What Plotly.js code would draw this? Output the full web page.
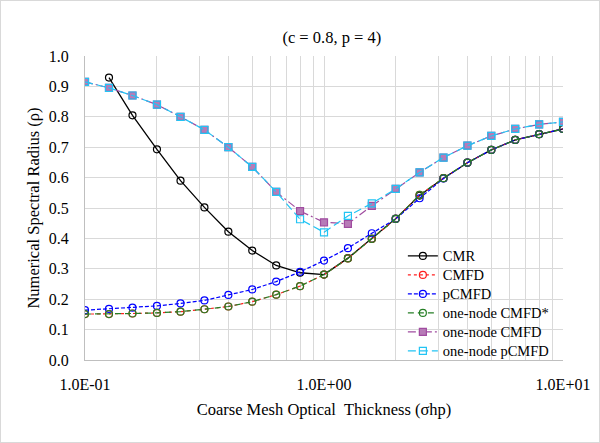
<!DOCTYPE html>
<html>
<head>
<meta charset="utf-8">
<script src="https://cdn.plot.ly/plotly-3.0.1.min.js"></script>
<style>
html,body{margin:0;padding:0;background:#fff;}
#wrap{position:relative;width:600px;height:443px;}
#chart{width:600px;height:443px;}
#frame{position:absolute;left:0;top:0;width:600px;height:443px;box-sizing:border-box;border:1px solid #d9d9d9;pointer-events:none;}
</style>
</head>
<body>
<div id="wrap"><div id="chart"></div><div id="frame"></div></div>
<script>
// Coarse mesh optical thickness (sigma h p)
const xVals = [0.1, 0.126, 0.158, 0.2, 0.251, 0.316, 0.398, 0.501, 0.631, 0.794, 1.0,
               1.259, 1.585, 1.995, 2.512, 3.162, 3.981, 5.012, 6.31, 7.943, 10];
const cmr = [null, 0.929, 0.805, 0.693, 0.59, 0.502, 0.422, 0.36, 0.311, 0.287, 0.281,
             0.335, 0.399, 0.465, 0.541, 0.598, 0.649, 0.691, 0.724, 0.743, 0.76];
const cmfd = [0.151, 0.151, 0.153, 0.155, 0.159, 0.167, 0.176, 0.192, 0.215, 0.243, 0.281,
              0.334, 0.398, 0.464, 0.543, 0.598, 0.649, 0.691, 0.724, 0.743, 0.76];
const pcmfd = [0.164, 0.168, 0.172, 0.178, 0.186, 0.196, 0.214, 0.232, 0.258, 0.29, 0.327,
               0.368, 0.417, 0.464, 0.532, 0.597, 0.649, 0.691, 0.724, 0.743, 0.76];
const oneNodeCmfdStar = [0.151, 0.151, 0.153, 0.155, 0.159, 0.167, 0.176, 0.192, 0.215, 0.243, 0.281,
                         0.334, 0.398, 0.464, 0.543, 0.598, 0.649, 0.691, 0.724, 0.743, 0.76];
const oneNodeCmfd = [0.915, 0.895, 0.87, 0.84, 0.80, 0.757, 0.70, 0.635, 0.553, 0.49, 0.453,
                     0.448, 0.507, 0.563, 0.617, 0.666, 0.705, 0.737, 0.76, 0.775, 0.783];
const oneNodePcmfd = [0.915, 0.895, 0.87, 0.84, 0.80, 0.757, 0.70, 0.635, 0.553, 0.463, 0.42,
                      0.474, 0.515, 0.563, 0.617, 0.666, 0.705, 0.737, 0.76, 0.775, 0.783];
const seriesNames = ['CMR', 'CMFD', 'pCMFD', 'one-node CMFD*', 'one-node CMFD', 'one-node pCMFD'];
const xTickVals = [0.1,0.2,0.3,0.4,0.5,0.6,0.7,0.8,0.9,1,2,3,4,5,6,7,8,9,10];
const xTickText = ['1.0E-01','','','','','','','','','1.0E+00','','','','','','','','','1.0E+01'];
const yTickVals = [0,0.1,0.2,0.3,0.4,0.5,0.6,0.7,0.8,0.9,1.0];

const F = 'Liberation Serif';
function tr(i, y, color, dash, symbol, msize, fill, lw){
  const m = {symbol: symbol, size: msize, color: fill || color, line: {color: color, width: 1.2}};
  return {x: xVals, y: y, name: '<span style="font-size:14.5px">' + seriesNames[i] + '</span>',
          type: 'scatter', mode: 'lines+markers',
          line: {color: color, dash: dash, width: lw || 1.2}, marker: m, connectgaps: false};
}
const data = [
  tr(0, cmr, '#000000', 'solid', 'circle-open', 7, null, 1.3),
  tr(1, cmfd, '#ff2020', 'dot', 'circle-open', 7),
  tr(2, pcmfd, '#0000ff', '4px,2px', 'circle-open', 7),
  tr(3, oneNodeCmfdStar, '#267f26', '6px,4px', 'circle-open', 7),
  tr(4, oneNodeCmfd, '#a04ca0', '8px,3px,2px,3px', 'square', 7, '#b77bb7'),
  tr(5, oneNodePcmfd, '#22c4f4', '8px,4px', 'square-open', 7)
];
const layout = {
  width: 600, height: 443,
  margin: {l: 85, r: 37, t: 56, b: 83},
  paper_bgcolor: '#ffffff', plot_bgcolor: '#ffffff',
  font: {family: F, size: 15, color: '#000'},
  title: {text: '(c = 0.8, p = 4)', font: {family: F, size: 16.5, color: '#000'}, x: 0.553, xanchor: 'center', y: 0.915, yanchor: 'middle'},
  xaxis: {type: 'log', range: [-1, 1], tickvals: xTickVals, ticktext: xTickText,
          showgrid: true, gridcolor: '#d9d9d9', gridwidth: 1, zeroline: false,
          showline: true, linecolor: '#bfbfbf', ticks: '', ticklabelstandoff: 10,
          tickfont: {family: F, size: 16, color: '#000'},
          title: {text: 'Coarse Mesh Optical  Thickness (σhp)', font: {family: F, size: 16.5, color: '#000'}, standoff: 11}},
  yaxis: {range: [0, 1], tickvals: yTickVals, tickformat: '.1f',
          showgrid: true, gridcolor: '#d9d9d9', gridwidth: 1, zeroline: false,
          showline: true, linecolor: '#bfbfbf', ticks: '', ticklabelstandoff: 12,
          tickfont: {family: F, size: 16, color: '#000'},
          title: {text: 'Numerical Spectral Radius (ρ)', font: {family: F, size: 16.5, color: '#000'}, standoff: 5}},
  legend: {x: 0.665, y: 0.39, xanchor: 'left', yanchor: 'top', bgcolor: 'rgba(0,0,0,0)',
           font: {family: F, size: 12, color: '#000'}, tracegroupgap: 0, itemwidth: 30},
  showlegend: true
};
Plotly.newPlot('chart', data, layout, {displayModeBar: false, staticPlot: true});
</script>
</body>
</html>
